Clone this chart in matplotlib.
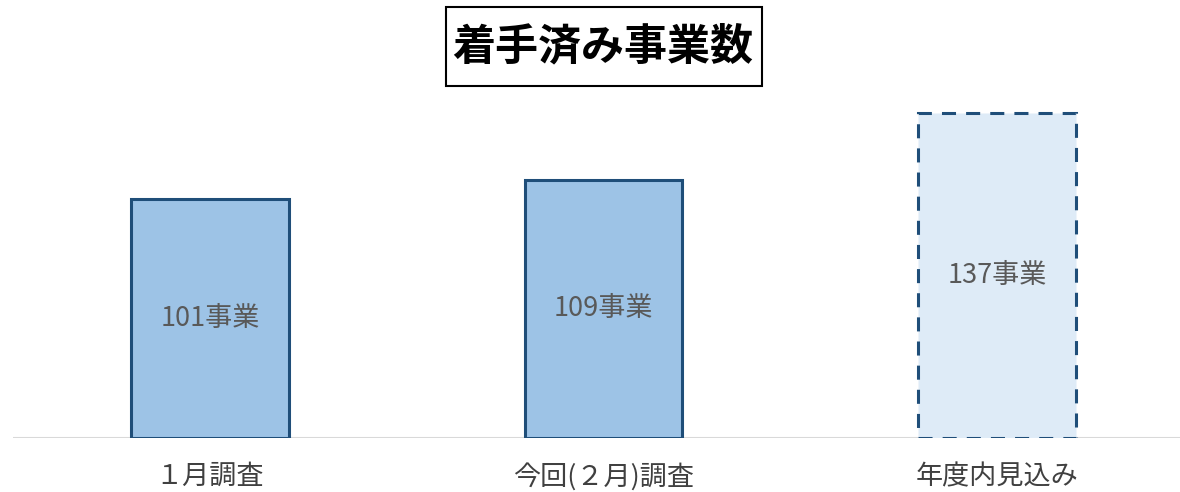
import matplotlib
matplotlib.use("Agg")
import matplotlib.pyplot as plt
from matplotlib.patches import Rectangle

plt.rcParams['font.family'] = ['Noto Sans CJK JP', 'DejaVu Sans']

categories = ["１月調査", "今回(２月)調査", "年度内見込み"]
values = [101, 109, 137]
value_labels = ["101事業", "109事業", "137事業"]
title = "着手済み事業数"

W, H = 1180, 492
fig = plt.figure(figsize=(W / 100, H / 100), dpi=100)

px_per_unit = 2.366
ytop = 150
ax_left = 13.25
ax_width = 393.5 * 3
ax_bottom = H - 437.5
ax_height = ytop * px_per_unit
ax = fig.add_axes([ax_left / W, ax_bottom / H, ax_width / W, ax_height / H])

x = list(range(len(categories)))
fills = ["#9dc3e6", "#9dc3e6", "#deebf7"]
styles = ["solid", "solid", (0, (4.6, 3.3))]
for xi, v, fc, ls in zip(x, values, fills, styles):
    ax.bar(xi, v, width=0.4, facecolor=fc, edgecolor="#1f4e79",
           linewidth=2.2, linestyle=ls, zorder=2)
for xi, v, lab in zip(x, values, value_labels):
    ax.text(xi, v / 2, lab, ha="center", va="center", fontsize=19.5,
            color="#595959", zorder=3)

ax.set_xlim(-0.5, 2.5)
ax.set_ylim(0, ytop)
ax.axhline(0, color="#d9d9d9", linewidth=1.5, zorder=1)
for s in ax.spines.values():
    s.set_visible(False)
ax.set_yticks([])
ax.set_xticks(x)
ax.set_xticklabels(categories, fontsize=19.5, color="#404040")
ax.tick_params(axis="x", length=0, pad=18.5)

# title box
fig.patches.append(Rectangle((446 / W, 1 - 86 / H), 316 / W, 79 / H,
                             transform=fig.transFigure, facecolor="white",
                             edgecolor="black", linewidth=1.5))
fig.text(603 / W, 1 - 46.5 / H, title, ha="center", va="center",
         fontsize=31, fontweight="bold", color="black")

fig.savefig("out.png", dpi=100)
